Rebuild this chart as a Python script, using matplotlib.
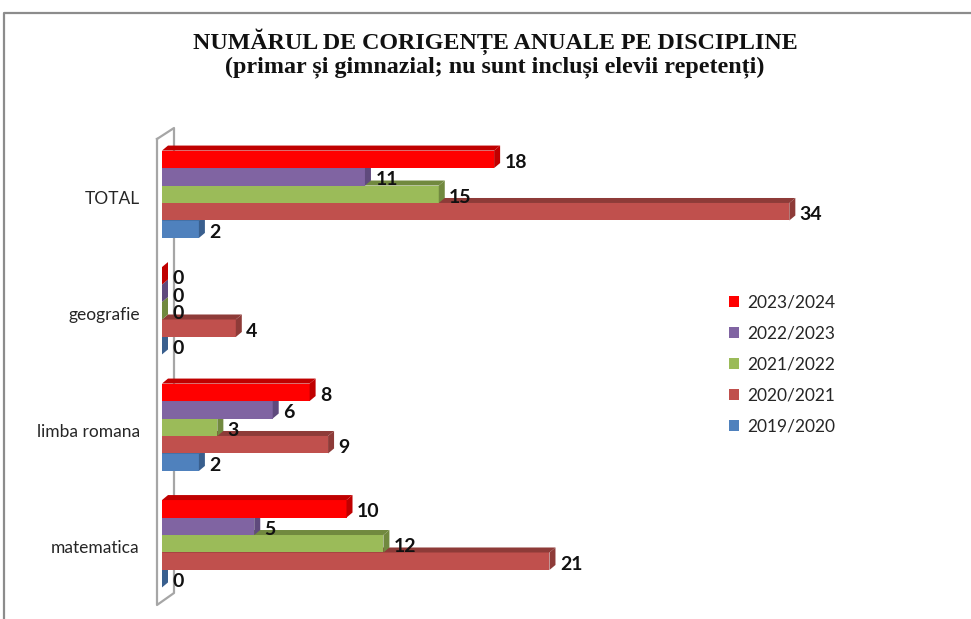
import matplotlib
matplotlib.use("Agg")
import matplotlib.pyplot as plt
from matplotlib.patches import Patch, Polygon
from matplotlib.lines import Line2D
from matplotlib.transforms import ScaledTranslation

# data (categories listed top to bottom, series in legend order)
categories = ["TOTAL", "geografie", "limba romana", "matematica"]
series_names = ["2023/2024", "2022/2023", "2021/2022", "2020/2021", "2019/2020"]
v_2023_2024 = [18, 0, 8, 10]
v_2022_2023 = [11, 0, 6, 5]
v_2021_2022 = [15, 0, 3, 12]
v_2020_2021 = [34, 4, 9, 21]
v_2019_2020 = [2, 0, 2, 0]
series_values = [v_2023_2024, v_2022_2023, v_2021_2022, v_2020_2021, v_2019_2020]

front_colors = ["#FF0000", "#8064A2", "#9BBB59", "#C0504D", "#4F81BD"]
dark_colors = ["#C00000", "#5F4A7D", "#71893F", "#8E3B38", "#395F8E"]

W, H = 971, 619
fig = plt.figure(figsize=(W / 100, H / 100), dpi=100)
fig.patch.set_facecolor("white")

def fx(x):
    return x / W

def fy(y):
    return 1 - y / H

# plot area (x=0 at 162px, category pitch ~116.7px)
ax = fig.add_axes([fx(162), fy(602), fx(960 - 162), (602 - 136) / H])
ax.set_xlim(0, 43.25)
ax.set_ylim(-0.5, 3.5)
ax.patch.set_visible(False)
for s in ax.spines.values():
    s.set_visible(False)

xu = (960 - 162) / 43.25          # px per x unit
yu = (602 - 136) / 4.0            # px per y unit
dx, dy = 6 / xu, 5 / yu           # 3d depth of the bars
bar_h = 0.15
offsets = [0.3, 0.15, 0.0, -0.15, -0.3]
ypos = [len(categories) - 1 - i for i in range(len(categories))]

# thin 3d wall at the left
wall_x = [157, 157, 174, 174, 157]
wall_y = [139, 605, 593, 128, 139]
ax.plot([fx(x) for x in wall_x], [fy(y) for y in wall_y], transform=fig.transFigure,
        color="#A6A6A6", lw=1.6, clip_on=False, zorder=1)

# draw bottom series first so the upper bars hide the top faces below them
for k in reversed(range(len(series_names))):
    z = 3 + (len(series_names) - k) * 3
    for yc, v in zip(ypos, series_values[k]):
        y = yc + offsets[k]
        yb, yt = y - bar_h / 2, y + bar_h / 2
        if v > 0:
            ax.barh(y, v, height=bar_h, color=front_colors[k], edgecolor="none", zorder=z)
            ax.add_patch(Polygon([(0, yt), (v, yt), (v + dx, yt + dy), (dx, yt + dy)],
                                 closed=True, fc=dark_colors[k], ec="none", zorder=z))
        ax.add_patch(Polygon([(v, yb), (v, yt), (v + dx, yt + dy), (v + dx, yb + dy)],
                             closed=True, fc=dark_colors[k], ec="none", zorder=z + 1))
        ax.annotate(str(v), (v, y), xytext=(7.5, -2.3), textcoords="offset points",
                    ha="left", va="center", fontsize=14, fontweight="bold",
                    family="Lato", color="#111111", zorder=40)

ax.set_xticks([])
ax.set_yticks(ypos)
ax.set_yticklabels(categories, family="Lato", fontsize=12.5, color="#262626")
ax.tick_params(axis="y", length=0, pad=16)
for lbl in ax.get_yticklabels():
    lbl.set_transform(lbl.get_transform() + ScaledTranslation(0, -0.03, fig.dpi_scale_trans))

# legend
handles = [Patch(facecolor=c, edgecolor="none") for c in front_colors]
fig.legend(handles, series_names, loc="upper left", bbox_to_anchor=(fx(729), fy(295)),
           frameon=False, prop={"family": "Lato", "size": 12.5}, handlelength=0.6,
           handleheight=0.6, handletextpad=0.45, labelspacing=0.86,
           borderpad=0, borderaxespad=0, labelcolor="#262626")

# title
fig.text(fx(495), fy(42), "NUMĂRUL DE CORIGENȚE ANUALE PE DISCIPLINE", ha="center", va="center",
         family="Liberation Serif", fontweight="bold", fontsize=17.3, color="#111111")
fig.text(fx(495), fy(67), "(primar și gimnazial; nu sunt incluși elevii repetenți)", ha="center",
         va="center", family="Liberation Serif", fontweight="bold", fontsize=17.3, color="#111111")

# outer frame (top and left edges visible)
fig.add_artist(Line2D([fx(4), fx(4), 1], [0, fy(13), fy(13)], color="#8C8C8C", lw=1.6))

fig.savefig("out.png", dpi=100)
